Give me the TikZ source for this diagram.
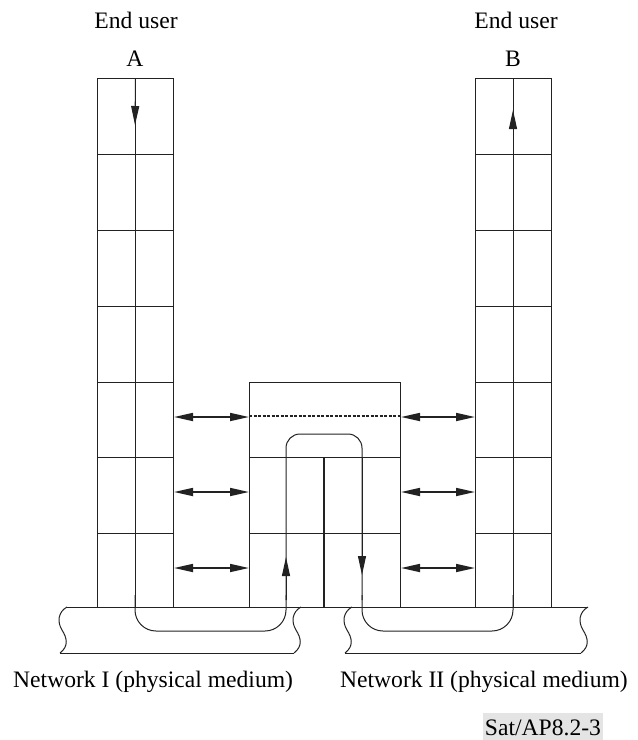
\documentclass[tikz,border=0pt]{standalone}
\usepackage{fontspec}
\setmainfont{Liberation Serif}
\usetikzlibrary{arrows.meta}
\definecolor{labelgray}{HTML}{E4E4E4}
\definecolor{ink}{HTML}{222222}
\begin{document}
\begin{tikzpicture}[x=1pt,y=-1pt,
  grid/.style={line width=1pt, draw=ink},
  flow/.style={line width=1pt, draw=ink},
  head/.style={-{Triangle[length=19pt,width=8pt]}},
  dbl/.style={line width=1.7pt, draw=ink, {Triangle[length=19pt,width=8pt]}-{Triangle[length=19pt,width=8pt]}},
  lbl/.style={font=\fontsize{23.6}{28}\selectfont, inner sep=0pt, anchor=base},
  boxnode/.style={draw=ink, line width=1pt, inner sep=0pt, anchor=north west},
  wave/.pic={\draw[grid] (0,0) .. controls (-9,5) and (-10,15) .. (-5,23) .. controls (0,31) and (2,39) .. (-7,46);}
]
\useasboundingbox (0,0) rectangle (638,740);

% end-user stacks
\node[boxnode, minimum width=76pt, minimum height=529pt] (A) at (97,78) {};
\node[boxnode, minimum width=76pt, minimum height=529pt] (B) at (475,78) {};
\draw[grid] (A.north) -- (A.south);
\draw[grid] (B.north) -- (B.south);
\foreach \y in {154,230,306,382,457,533}{
  \draw[grid] (97,\y) -- (173,\y);
  \draw[grid] (475,\y) -- (551,\y);
}

% relay box
\node[boxnode, minimum width=151pt, minimum height=225pt] (relay) at (249,382) {};
\draw[grid] (249,457) -- (400,457);
\draw[grid] (249,533) -- (400,533);
\draw[line width=1.1pt, draw=ink, dash pattern=on 3pt off 1.5pt] (249,416) -- (400,416);
\draw[line width=1.9pt, draw=ink] (324,457) -- (324,607);

% physical media
\draw[grid] (67,607) -- (588,607);
\draw[grid] (60,653) -- (294,653);
\draw[grid] (345,653) -- (581,653);
\pic at (67,607) {wave};
\pic at (301,607) {wave};
\pic at (352,607) {wave};
\pic at (588,607) {wave};

% flow path
\draw[flow, rounded corners=21pt] (135,595) -- (135,631) -- (286,631) -- (286,595);
\draw[flow, rounded corners=14pt] (286,600) -- (286,434) -- (362,434) -- (362,600);
\draw[flow, rounded corners=21pt] (362,595) -- (362,631) -- (513,631) -- (513,595);
\draw[flow, head] (A.north) -- (135,125);
\draw[flow, head] (513,154) -- (513,110);
\draw[flow, head] (286,600) -- (286,557);
\draw[flow, head] (362,457) -- (362,575);

% peer arrows
\coordinate (h1) at (0,417);
\coordinate (h2) at (0,492);
\coordinate (h3) at (0,568);
\foreach \h in {h1,h2,h3}{
  \draw[dbl] (A.east |- \h) -- (relay.west |- \h);
  \draw[dbl] (relay.east |- \h) -- (B.west |- \h);
}

% labels
\node[lbl] (euA) at (136,28) {End user};
\node[lbl] (lA) at (135,66) {A};
\node[lbl] (euB) at (516,28) {End user};
\node[lbl] (lB) at (513,66) {B};
\node[lbl, anchor=base west] (net1) at (13,687) {Network I (physical medium)};
\node[lbl, anchor=base east] (net2) at (628,687) {Network II (physical medium)};
\node[fill=labelgray, minimum width=120pt, minimum height=27pt, anchor=north west, inner sep=0pt] (satbox) at (483,713) {};
\node[lbl] (sat) at (543,735) {Sat/AP8.2-3};
\end{tikzpicture}
\end{document}
